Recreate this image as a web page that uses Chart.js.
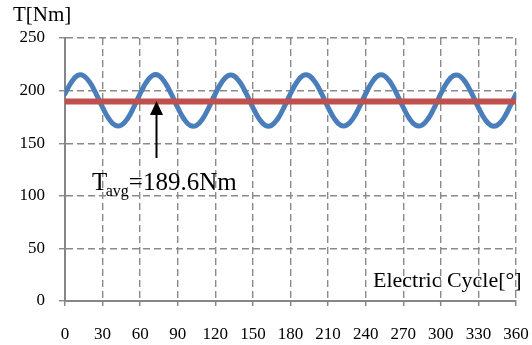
<!DOCTYPE html>
<html>
<head>
<meta charset="utf-8">
<script src="https://cdn.jsdelivr.net/npm/chart.js@4/dist/chart.umd.min.js"></script>
<style>
  html, body { margin: 0; padding: 0; background: #ffffff; }
  #wrap { position: relative; width: 532px; height: 345px; }
</style>
</head>
<body>
<div id="wrap"><canvas id="c"></canvas></div>
<script>
// Electric angle [deg]
const angles = [
  0, 5, 10, 15, 20, 25, 30, 35, 40, 45, 50, 55,
  60, 65, 70, 75, 80, 85, 90, 95, 100, 105, 110, 115,
  120, 125, 130, 135, 140, 145, 150, 155, 160, 165, 170, 175,
  180, 185, 190, 195, 200, 205, 210, 215, 220, 225, 230, 235,
  240, 245, 250, 255, 260, 265, 270, 275, 280, 285, 290, 295,
  300, 305, 310, 315, 320, 325, 330, 335, 340, 345, 350, 355,
  360
];
// Torque [Nm]
const torque = [
  197.0, 207.8, 214.3, 214.0, 207.5, 196.5, 184.0, 173.2, 167.0, 167.2, 173.5, 184.5,
  197.2, 208.0, 214.5, 214.2, 207.4, 196.3, 183.8, 173.0, 166.8, 167.0, 173.4, 184.4,
  197.0, 207.7, 214.2, 213.9, 207.3, 196.4, 183.9, 173.1, 166.9, 167.1, 173.5, 184.6,
  197.1, 207.9, 214.4, 214.1, 207.5, 196.6, 184.1, 173.3, 167.1, 167.3, 173.6, 184.5,
  197.0, 207.8, 214.3, 214.0, 207.4, 196.5, 184.0, 173.2, 167.0, 167.2, 173.5, 184.4,
  197.1, 207.8, 214.2, 214.0, 207.4, 196.4, 183.9, 173.1, 166.9, 167.1, 173.4, 184.5,
  197.0
];
const avgTorque = 189.6;
const xTicks = [0, 30, 60, 90, 120, 150, 180, 210, 240, 270, 300, 330, 360];
const yTicks = [0, 50, 100, 150, 200, 250];
const yTitle = 'T[Nm]';
const xTitle = 'Electric Cycle[\u00B0]';
const avgLabelMain = 'T';
const avgLabelSub = 'avg';
const avgLabelRest = '=189.6Nm';
const arrowAngle = 73;

const SERIF = '"Liberation Serif", "Times New Roman", serif';
const GRID = '#8a8a8a';
const AXIS = '#868686';

const annotations = {
  id: 'annotations',
  afterDatasetsDraw(chart) {
    const ctx = chart.ctx;
    const xs = chart.scales.x, ys = chart.scales.y;
    ctx.save();
    // arrow
    const ax = Math.round(xs.getPixelForValue(arrowAngle)) + 0.5;
    const tipY = ys.getPixelForValue(avgTorque) - 0.5;
    const baseY = tipY + 14;
    const endY = 158;
    ctx.strokeStyle = '#000';
    ctx.lineWidth = 2;
    ctx.beginPath();
    ctx.moveTo(ax, baseY);
    ctx.lineTo(ax, endY);
    ctx.stroke();
    ctx.fillStyle = '#000';
    ctx.beginPath();
    ctx.moveTo(ax, tipY);
    ctx.lineTo(ax - 6.5, baseY);
    ctx.lineTo(ax + 6.5, baseY);
    ctx.closePath();
    ctx.fill();

    // texts
    ctx.fillStyle = '#000';
    ctx.textBaseline = 'alphabetic';
    ctx.textAlign = 'left';
    ctx.font = '21px ' + SERIF;
    ctx.fillText(yTitle, 13, 21);
    ctx.font = '22px ' + SERIF;
    ctx.fillText(xTitle, 373, 287);

    let tx = 92;
    const by = 189.5;
    ctx.font = '25px ' + SERIF;
    ctx.fillText(avgLabelMain, tx, by);
    tx += ctx.measureText(avgLabelMain).width - 1.5;
    ctx.font = '16px ' + SERIF;
    ctx.fillText(avgLabelSub, tx, by + 6);
    tx += ctx.measureText(avgLabelSub).width;
    ctx.font = '25px ' + SERIF;
    ctx.fillText(avgLabelRest, tx, by);
    ctx.restore();
  }
};

new Chart(document.getElementById('c'), {
  type: 'line',
  data: {
    datasets: [
      {
        label: 'Average',
        data: [{x: xTicks[0], y: avgTorque}, {x: xTicks[xTicks.length - 1], y: avgTorque}],
        borderColor: '#C0504D',
        borderWidth: 6,
        pointRadius: 0,
        fill: false,
        order: 0
      },
      {
        label: 'Torque',
        data: angles.map((a, i) => ({x: a, y: torque[i]})),
        borderColor: '#4A7EBB',
        borderWidth: 5,
        pointRadius: 0,
        tension: 0.4,
        fill: false,
        borderCapStyle: 'round',
        order: 1
      }
    ]
  },
  options: {
    responsive: true,
    maintainAspectRatio: false,
    devicePixelRatio: 1,
    animation: false,
    events: [],
    layout: { padding: { left: 0, right: 16, top: 38, bottom: 0 } },
    plugins: { legend: { display: false }, tooltip: { enabled: false }, title: { display: false } },
    scales: {
      x: {
        type: 'linear',
        min: xTicks[0],
        max: xTicks[xTicks.length - 1],
        afterBuildTicks(scale) { scale.ticks = xTicks.map(v => ({value: v})); },
        afterFit(scale) { scale.height = 44; scale.paddingLeft = 0; scale.paddingRight = 0; },
        ticks: {
          font: { family: SERIF, size: 17 },
          color: '#000',
          padding: 18,
          maxRotation: 0,
          autoSkip: false
        },
        grid: {
          color: GRID,
          lineWidth: 1.4,
          tickLength: 5,
          tickColor: AXIS,
          tickWidth: 1.5,
          tickBorderDash: []
        },
        border: { display: true, color: AXIS, width: 2, dash: [7, 4] }
      },
      y: {
        type: 'linear',
        min: yTicks[0],
        max: yTicks[yTicks.length - 1],
        afterBuildTicks(scale) { scale.ticks = yTicks.map(v => ({value: v})); },
        afterFit(scale) { scale.width = 65; scale.paddingTop = 0; scale.paddingBottom = 0; },
        ticks: {
          font: { family: SERIF, size: 17 },
          color: '#000',
          padding: 14
        },
        grid: {
          color: GRID,
          lineWidth: 1.4,
          tickLength: 6,
          tickColor: GRID,
          tickWidth: 1.4,
          tickBorderDash: []
        },
        border: { display: true, color: AXIS, width: 2, dash: [7, 4] }
      }
    }
  },
  plugins: [annotations]
});
</script>
</body>
</html>
